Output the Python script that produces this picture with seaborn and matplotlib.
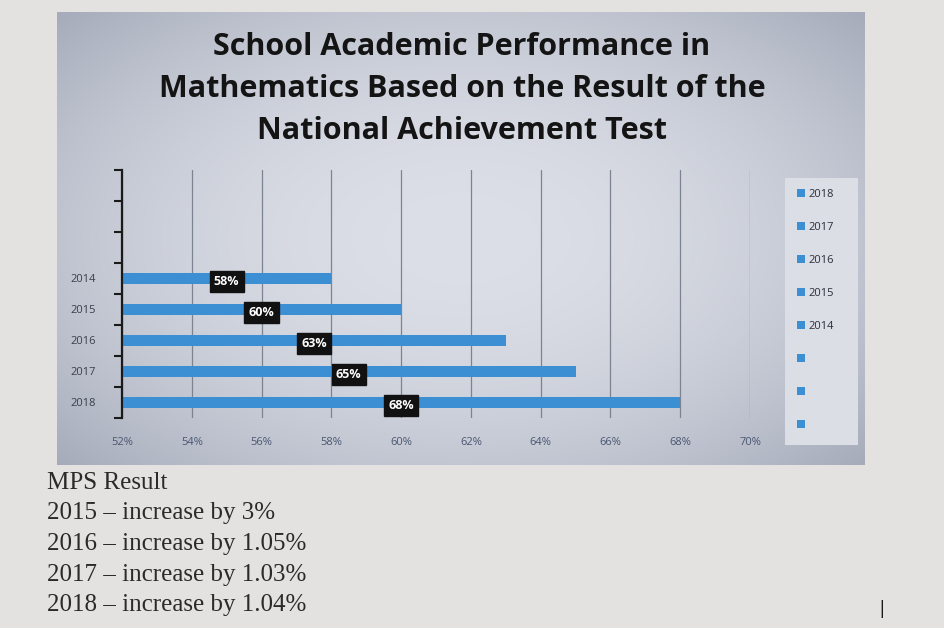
import numpy as np
import pandas as pd
import matplotlib
matplotlib.use("Agg")
import matplotlib.pyplot as plt
import seaborn as sns
from matplotlib.patches import Patch
from matplotlib.ticker import FixedLocator

# Data
years = ["2014", "2015", "2016", "2017", "2018"]
mps = [58, 60, 63, 65, 68]
value_labels = ["58%", "60%", "63%", "65%", "68%"]
xticks = [52, 54, 56, 58, 60, 62, 64, 66, 68, 70]
legend_labels = ["2018", "2017", "2016", "2015", "2014", "", "", ""]
notes = [
    "MPS Result",
    "2015 \u2013 increase by 3%",
    "2016 \u2013 increase by 1.05%",
    "2017 \u2013 increase by 1.03%",
    "2018 \u2013 increase by 1.04%",
]
title_lines = [
    "School Academic Performance in",
    "Mathematics Based on the Result of the",
    "National Achievement Test",
]

df = pd.DataFrame({"year": years, "mps": mps})

sns.set_theme(style="white")
plt.rcParams["font.family"] = ["Open Sans", "DejaVu Sans"]

bar_color = "#3d8fd4"
W, H = 945, 628

fig = plt.figure(figsize=(W / 100, H / 100), dpi=100)
fig.patch.set_facecolor("#e4e2e1")

# chart panel with gradient background
px0, py0, px1, py1 = 57, 12, 865, 465
bg = fig.add_axes([px0 / W, 1 - py1 / H, (px1 - px0) / W, (py1 - py0) / H])
gx = np.linspace(-1, 1, 300)
gy = np.linspace(-1, 1, 200)
GX, GY = np.meshgrid(gx, gy)
r = np.clip(np.sqrt((GX * 0.95) ** 2 + (GY * 0.9) ** 2), 0, 1.4)
light = np.array([220, 223, 231]) / 255
dark = np.array([158, 164, 180]) / 255
t = (r / 1.4) ** 2.0
img = light[None, None, :] * (1 - t[..., None]) + dark[None, None, :] * t[..., None]
bg.imshow(img, aspect="auto", extent=[0, 1, 0, 1])
bg.axis("off")

# legend box background
lg = fig.add_axes([785 / W, 1 - 445 / H, 73 / W, 267 / H])
lg.set_facecolor("#dcdee6")
lg.set_xticks([])
lg.set_yticks([])
for s in lg.spines.values():
    s.set_visible(False)

# main axes
ax = fig.add_axes([122 / W, 1 - 418 / H, 628 / W, 248 / H])
ax.patch.set_alpha(0)
sns.barplot(data=df, x="mps", y="year", order=years, color=bar_color,
            saturation=1, width=0.34, linewidth=0, ax=ax)
ax.set_xlim(52, 70)
ax.set_ylim(4.5, -3.5)
ax.set_xticks(xticks)
ax.set_xticklabels([f"{v}%" for v in xticks], fontsize=8, color="#4a5670")
ax.tick_params(axis="x", length=0, pad=14)
ax.grid(axis="x", color="#7d8390", linewidth=0.9)
ax.set_axisbelow(True)
ax.set_xlabel("")
ax.set_ylabel("")

ax.set_yticks(range(len(years)))
ax.set_yticklabels(years, fontsize=8, color="#3a3f4a")
ax.tick_params(axis="y", length=0, pad=19)
ax.yaxis.set_minor_locator(FixedLocator(np.arange(-3.5, 5, 1)))
ax.tick_params(axis="y", which="minor", length=6, width=1.5, color="#1a1a1a",
               direction="out", left=True)

for s in ["top", "right", "bottom"]:
    ax.spines[s].set_visible(False)
ax.spines["left"].set_color("#1a1a1a")
ax.spines["left"].set_linewidth(1.6)

# value labels centred on bars
for i, (v, lab) in enumerate(zip(mps, value_labels)):
    ax.text((52 + v) / 2, i + 0.1, lab, ha="center", va="center",
            fontsize=9, fontweight="bold", color="white",
            bbox=dict(boxstyle="square,pad=0.35", fc="#111111", ec="#111111"))

# legend
handles = [Patch(facecolor=bar_color, edgecolor="none") for _ in legend_labels]
fig.legend(handles, legend_labels, loc="upper left",
           bbox_to_anchor=(787 / W, 1 - 179 / H), frameon=False,
           fontsize=8, handlelength=0.7, handleheight=0.7,
           handletextpad=0.3, labelspacing=1.98, labelcolor="#2a2e38")

# title
for k, line in enumerate(title_lines):
    fig.text(462 / W, 1 - (47 + k * 42) / H, line, ha="center", va="center",
             fontsize=22, fontweight="bold", color="#141414")

# notes below the chart
for k, line in enumerate(notes):
    fig.text(47 / W, 1 - (483 + k * 30.5) / H, line, ha="left", va="center",
             fontsize=18, family="Liberation Serif", color="#2a2a2a")

fig.text(882 / W, 1 - 609 / H, "|", ha="center", va="center",
         fontsize=14, color="#1a1a1a")

fig.savefig("out.png", dpi=100, facecolor=fig.get_facecolor())
